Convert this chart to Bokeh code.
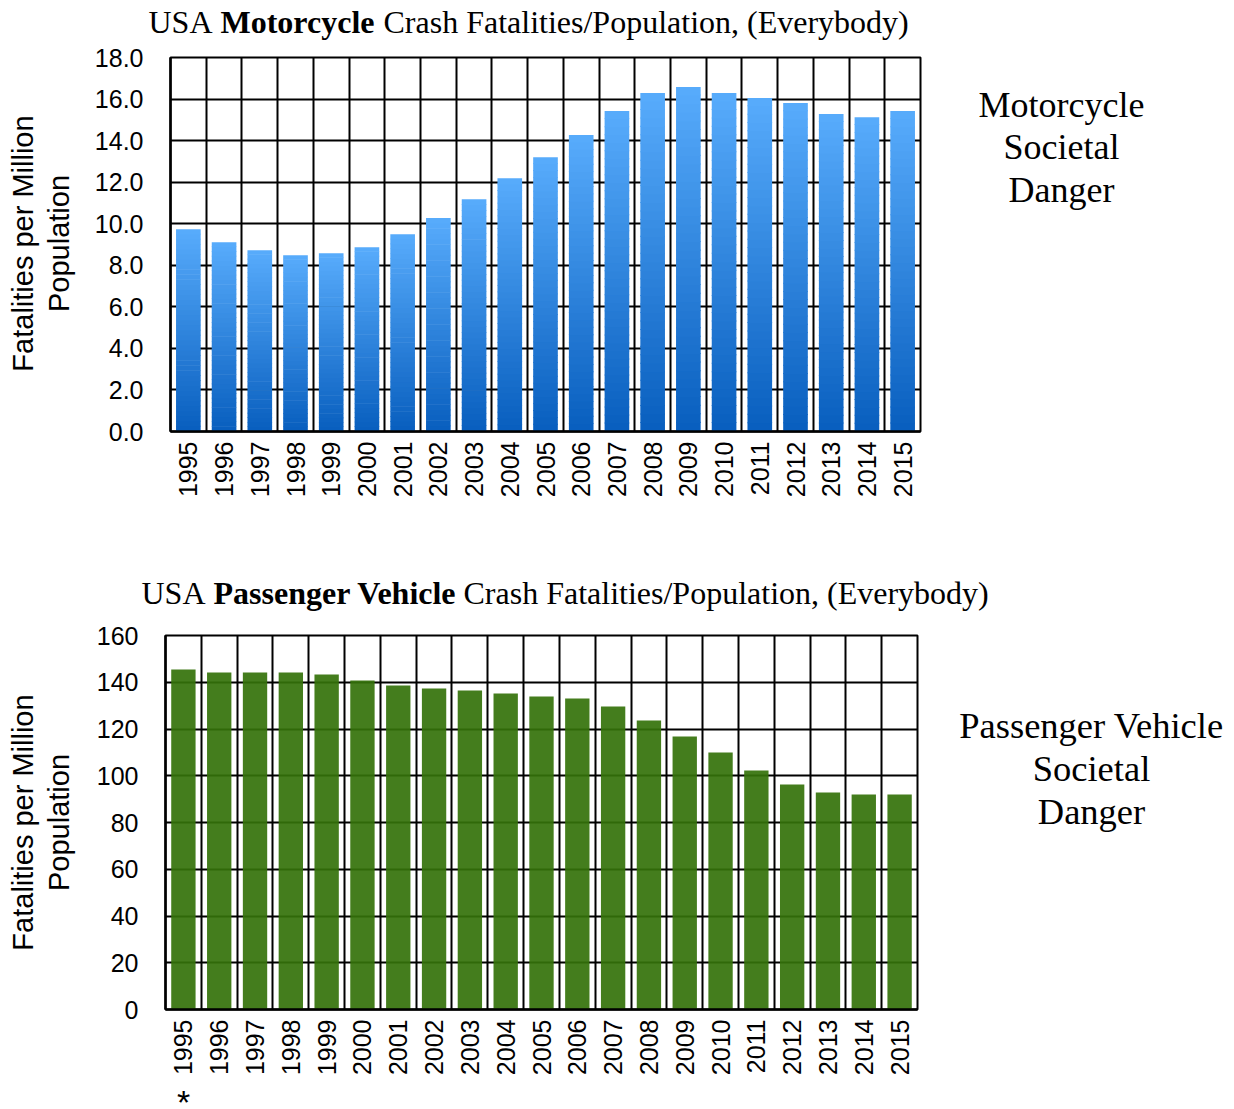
import math
from bokeh.plotting import figure
from bokeh.models import Range1d, FixedTicker, NumeralTickFormatter
from bokeh.layouts import column, row
from bokeh.core.properties import value
from bokeh.embed import file_html
from bokeh.resources import INLINE

# ---------------- data ----------------
years = ["1995", "1996", "1997", "1998", "1999", "2000", "2001", "2002", "2003", "2004",
         "2005", "2006", "2007", "2008", "2009", "2010", "2011", "2012", "2013", "2014", "2015"]
moto_rate = [9.73, 9.11, 8.72, 8.48, 8.58, 8.87, 9.49, 10.27, 11.18, 12.19, 13.20,
             14.27, 15.42, 16.29, 16.58, 16.29, 16.05, 15.81, 15.28, 15.13, 15.42]
pv_rate = [145.5, 144.2, 144.2, 144.2, 143.3, 140.7, 138.6, 137.3, 136.5, 135.2, 133.9,
           133.0, 129.6, 123.6, 116.8, 109.9, 102.2, 96.3, 92.8, 92.0, 92.0]
moto_yticks = [0, 2, 4, 6, 8, 10, 12, 14, 16, 18]
pv_yticks = [0, 20, 40, 60, 80, 100, 120, 140, 160]
moto_title = ["USA", "Motorcycle", "Crash Fatalities/Population, (Everybody)"]
pv_title = ["USA", "Passenger Vehicle", "Crash Fatalities/Population, (Everybody)"]
moto_note = ["Motorcycle", "Societal", "Danger"]
pv_note = ["Passenger Vehicle", "Societal", "Danger"]
y_title = ["Fatalities per Million", "Population"]

SERIF = "Liberation Serif"
SANS = "Liberation Sans"
N = len(years)
idx = list(range(N))
TOTAL_W = 1230


def text_fig(x0, y0, w, h):
    """Blank figure whose data space equals page pixels (y negated)."""
    f = figure(title=None, output_backend="svg", toolbar_location=None, frame_width=w, frame_height=h,
               x_range=Range1d(x0, x0 + w), y_range=Range1d(-(y0 + h), -y0),
               x_axis_location=None, y_axis_location=None,
               min_border=0, min_border_left=0, min_border_right=0,
               min_border_top=0, min_border_bottom=0)
    f.grid.visible = False
    f.outline_line_color = None
    f.background_fill_color = "white"
    f.border_fill_color = "white"
    return f


def chart_fig(x0, y0, w, h, frame_left, frame_top, frame_w, frame_h, ymax, yticks, fmt):
    p = figure(title=None, output_backend="svg", toolbar_location=None,
               frame_width=frame_w, frame_height=frame_h,
               min_border_left=frame_left - x0,
               min_border_right=w - (frame_left - x0) - frame_w,
               min_border_top=frame_top - y0,
               min_border_bottom=h - (frame_top - y0) - frame_h,
               x_range=Range1d(-0.5, N - 0.5), y_range=Range1d(0, ymax))
    p.background_fill_color = "white"
    p.border_fill_color = "white"
    p.outline_line_color = "black"
    p.outline_line_width = 2
    p.xaxis.ticker = FixedTicker(ticks=idx)
    p.xaxis.major_label_overrides = {i: years[i] for i in idx}
    p.xaxis.major_label_orientation = math.pi / 2
    p.yaxis.ticker = FixedTicker(ticks=yticks)
    p.yaxis.formatter = NumeralTickFormatter(format=fmt)
    for ax in (p.xaxis, p.yaxis):
        ax.axis_line_color = "black"
        ax.axis_line_width = 2.5
        ax.major_tick_out = 0
        ax.major_tick_in = 0
        ax.minor_tick_out = 0
        ax.minor_tick_in = 0
        ax.major_label_text_font = SANS
        ax.major_label_text_font_size = "25px"
        ax.major_label_text_color = "black"
    p.yaxis.major_label_standoff = 27
    p.xaxis.major_label_standoff = 10
    p.xgrid.ticker = FixedTicker(ticks=[i - 0.5 for i in range(N + 1)])
    p.ygrid.ticker = FixedTicker(ticks=yticks)
    for g in (p.xgrid, p.ygrid):
        g.grid_line_color = "black"
        g.grid_line_width = 2
        g.grid_line_alpha = 1
    return p


def add_title(f, parts, x_starts, cy):
    for k, (t, xs) in enumerate(zip(parts, x_starts)):
        f.text(x=[xs], y=[-cy], text=[t], text_font=value(SERIF), text_font_size=value("32px"),
               text_font_style=value("bold" if k == 1 else "normal"),
               text_align="left", text_baseline="middle", text_color="black")


def add_ytitle(f, cy):
    f.text(x=[22, 58], y=[-cy, -cy], text=y_title, angle=math.pi / 2,
           text_font=value(SANS), text_font_size=value("29px"),
           text_align="center", text_baseline="middle", text_color="black")


def add_note(f, cx, centers, lines, size):
    f.text(x=[cx] * len(lines), y=[-c for c in centers], text=lines,
           text_font=value(SERIF), text_font_size=value(size),
           text_align="center", text_baseline="middle", text_color="black")


# layout correction observed for text panels that sit beside a chart in a row
ROW1_FIX = 13
ROW2_FIX = 20

# ---------------- top section ----------------
t1 = text_fig(0, 0, TOTAL_W, 45)
add_title(t1, moto_title, [148, 220, 383], 21)

R1Y, R1H = 45, 507
l1 = text_fig(0, R1Y, 90, R1H)
add_ytitle(l1, 244 - ROW1_FIX)
c1 = chart_fig(90, R1Y, 840, R1H, 170, 57, 750, 374, 18, moto_yticks, "0.0")
s1 = text_fig(930, R1Y, TOTAL_W - 930, R1H)
add_note(s1, 1061, [105 - ROW1_FIX, 147.5 - ROW1_FIX, 190 - ROW1_FIX], moto_note, "36px")

# gradient bars, built from the values
SEG = 40
c_bot = (8, 94, 190)
c_top = (88, 172, 252)
gx, gb, gt, gc = [], [], [], []
for i, v in enumerate(moto_rate):
    for s in range(SEG):
        f = (s + 0.5) / SEG
        col = tuple(int(round(c_bot[k] + (c_top[k] - c_bot[k]) * f)) for k in range(3))
        gx.append(i)
        gb.append(v * s / SEG)
        gt.append(v * (s + 1) / SEG + (0.0 if s == SEG - 1 else v * 0.003))
        gc.append("#%02x%02x%02x" % col)
c1.vbar(x=gx, bottom=gb, top=gt, width=0.69, fill_color=gc, line_color=None)

# ---------------- bottom section ----------------
t2 = text_fig(0, 552, TOTAL_W, 63)
add_title(t2, pv_title, [141, 213, 463], 592)

R2Y, R2H = 615, 467
l2 = text_fig(0, R2Y, 85, R2H)
add_ytitle(l2, 822 - ROW2_FIX)
c2 = chart_fig(85, R2Y, 842, R2H, 165, 635, 752, 374, 160, pv_yticks, "0")
s2 = text_fig(927, R2Y, TOTAL_W - 927, R2H)
add_note(s2, 1091, [725 - ROW2_FIX, 768 - ROW2_FIX, 811 - ROW2_FIX], pv_note, "36.5px")

c2.vbar(x=idx, top=pv_rate, width=0.68, fill_color="#34720a", fill_alpha=0.92, line_color=None)

st = text_fig(0, 1082, TOTAL_W, 27)
st.text(x=[183], y=[-1101], text=["*"], text_font=value(SANS), text_font_size=value("34px"),
        text_align="center", text_baseline="middle", text_color="black")

layout = column(t1, row(l1, c1, s1, spacing=0), t2, row(l2, c2, s2, spacing=0), st, spacing=0)
open("out.html", "w").write(file_html(layout, INLINE))
